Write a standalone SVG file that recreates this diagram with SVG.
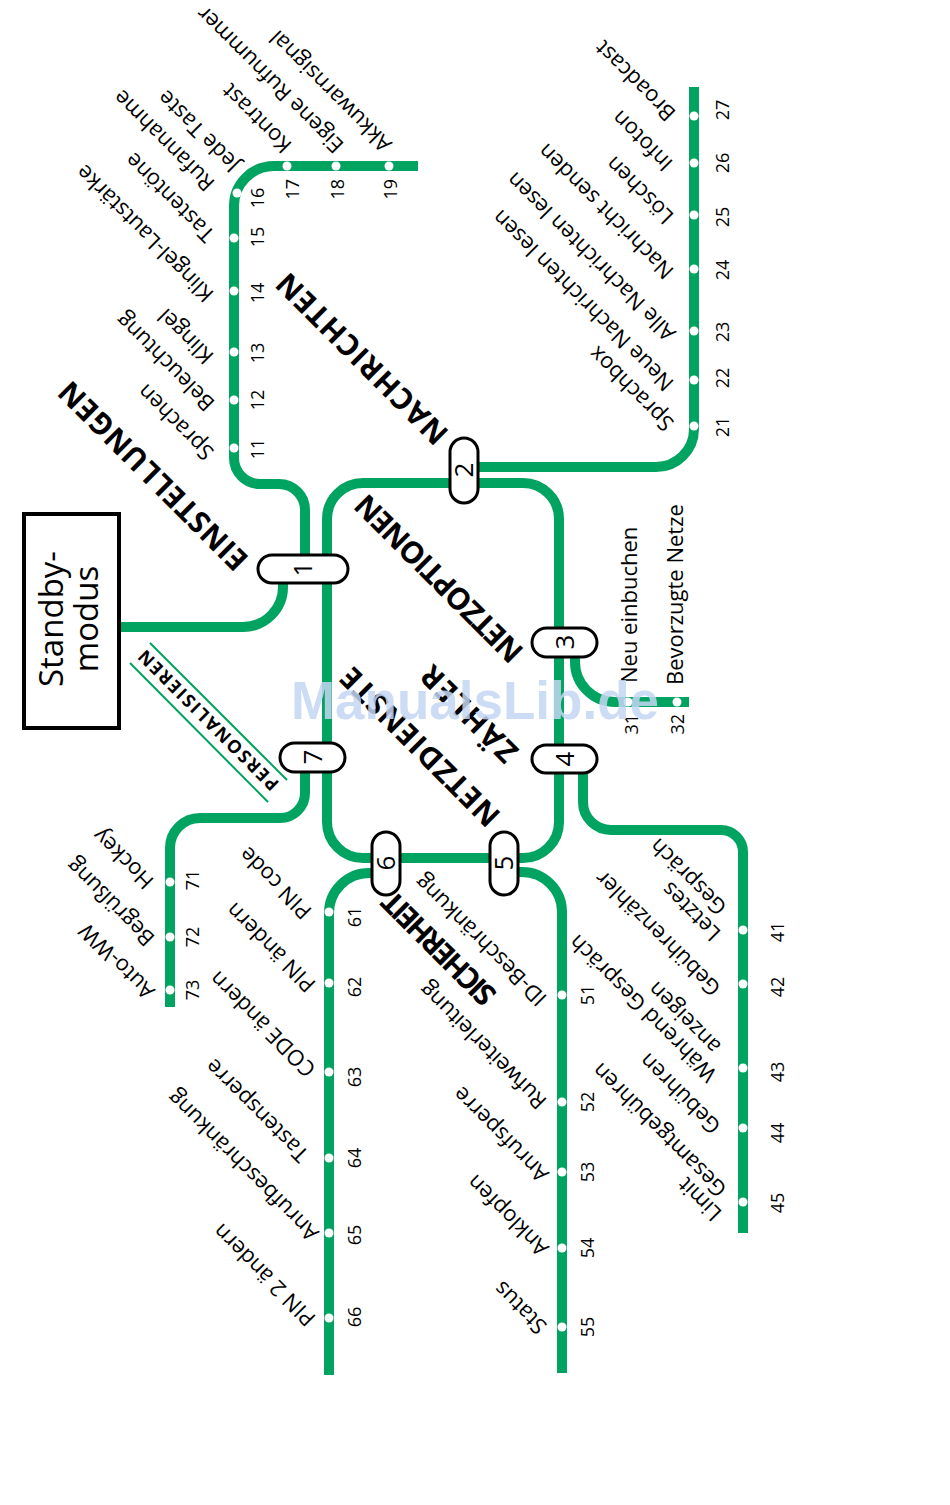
<svg xmlns="http://www.w3.org/2000/svg" width="950" height="1505" viewBox="0 0 950 1505">
<style>
.ln{fill:none;stroke:#00a35f;stroke-width:10;stroke-linecap:butt}
.thin{fill:none;stroke:#00a35f;stroke-width:2}
.dot{fill:#fff}
text{font-family:'Open Sans','Noto Sans',sans-serif;fill:#000}
.lbl{font-size:22px}
.num{font-size:18px}
.hd{font-size:30px;font-weight:700}
.hs{font-size:18px;font-weight:700}
.pill{fill:#fff;stroke:#000;stroke-width:3}
.pn{font-size:26px;text-anchor:middle}
.m{text-anchor:middle}
.e{text-anchor:end}
</style>
<rect width="950" height="1505" fill="#fff"/>
<g id="connectors">
<path class="ln" d="M120 627H243A40 40 0 0 0 283 587V575"/>
<path class="ln" d="M327 519A36 36 0 0 1 363 483H523A36 36 0 0 1 559 519V822A36 36 0 0 1 523 858H363A36 36 0 0 1 327 822Z"/>
<path class="ln" d="M305 560V510A26 26 0 0 0 279 484H260A26 26 0 0 1 234 458V206A40 40 0 0 1 274 166H418"/>
<path class="ln" d="M470 467H656A38 38 0 0 0 694 429V87"/>
<path class="ln" d="M575 650V662A40 40 0 0 0 615 702H689"/>
<path class="ln" d="M583 765V802A28 28 0 0 0 611 830H721A22 22 0 0 1 743 852V1233"/>
<path class="ln" d="M510 872H522A40 40 0 0 1 562 912V1373"/>
<path class="ln" d="M380 873H369A40 40 0 0 0 329 913V1375"/>
<path class="ln" d="M305 765V793A25 25 0 0 1 280 818H200A30 30 0 0 0 170 848V1007"/>
<path class="thin" d="M150 643L287 780M130 663L268 802"/>
</g>
<g id="standby">
<rect x="24" y="514" width="95" height="214" fill="#fff" stroke="#000" stroke-width="4"/>
<text style="font-size:33px" class="m" transform="translate(63,619) rotate(-90)">Standby-</text>
<text style="font-size:33px" class="m" transform="translate(98,619) rotate(-90)">modus</text>
</g>
<g id="headings">
<text class="hd" textLength="253" transform="translate(250,558) rotate(-135)">EINSTELLUNGEN</text>
<text class="hd" textLength="228" transform="translate(450,432) rotate(-135)">NACHRICHTEN</text>
<text class="hd" textLength="223" transform="translate(525,650) rotate(-135)">NETZOPTIONEN</text>
<text class="hd" textLength="123" transform="translate(520,750) rotate(-135)">ZÄHLER</text>
<text class="hd" textLength="211" transform="translate(502,814) rotate(-135)">NETZDIENSTE</text>
<text class="hd" textLength="147" transform="translate(498,993) rotate(-135)">SICHERHEIT</text>
<text class="hs" textLength="190" transform="translate(280,783) rotate(-135)">PERSONALISIEREN</text>
</g>
<g id="node1"><rect class="pill" x="258" y="555" width="90" height="28" rx="14"/><text class="pn" transform="translate(312,569) rotate(-90)">1</text></g>
<g id="node2"><rect class="pill" x="450" y="438" width="28" height="65" rx="14"/><text class="pn" transform="translate(473,470) rotate(-90)">2</text></g>
<g id="node3"><rect class="pill" x="532" y="628" width="65" height="29" rx="14.5"/><text class="pn" transform="translate(574,642) rotate(-90)">3</text></g>
<g id="node4"><rect class="pill" x="532" y="745" width="65" height="28" rx="14"/><text class="pn" transform="translate(574,759) rotate(-90)">4</text></g>
<g id="node5"><rect class="pill" x="490" y="832" width="28" height="63" rx="14"/><text class="pn" transform="translate(513,863) rotate(-90)">5</text></g>
<g id="node6"><rect class="pill" x="372" y="832" width="28" height="63" rx="14"/><text class="pn" transform="translate(395,863) rotate(-90)">6</text></g>
<g id="node7"><rect class="pill" x="280" y="743" width="65" height="29" rx="14.5"/><text class="pn" transform="translate(322,757) rotate(-90)">7</text></g>
<g id="line1">
<g id="st11"><circle class="dot" cx="234" cy="448" r="4.5"/><text class="num m" transform="translate(264,449) rotate(-90)">11</text><text class="lbl" transform="translate(215,451) rotate(-135)">Sprachen</text></g>
<g id="st12"><circle class="dot" cx="234" cy="400" r="4.5"/><text class="num m" transform="translate(264,400) rotate(-90)">12</text><text class="lbl" transform="translate(216,402) rotate(-135)">Beleuchtung</text></g>
<g id="st13"><circle class="dot" cx="234" cy="352" r="4.5"/><text class="num m" transform="translate(264,353) rotate(-90)">13</text><text class="lbl" transform="translate(215,355) rotate(-135)">Klingel</text></g>
<g id="st14"><circle class="dot" cx="234" cy="291" r="4.5"/><text class="num m" transform="translate(264,293) rotate(-90)">14</text><text class="lbl" transform="translate(215,293) rotate(-135)">Klingel-Lautstärke</text></g>
<g id="st15"><circle class="dot" cx="234" cy="238" r="4.5"/><text class="num m" transform="translate(264,237) rotate(-90)">15</text><text class="lbl" transform="translate(216,233) rotate(-135)">Tastentöne</text></g>
<g id="st16"><circle class="dot" cx="237" cy="193" r="4.5"/><text class="num m" transform="translate(264,198) rotate(-90)">16</text><text class="lbl" transform="translate(216,182) rotate(-135)">Rufannahme</text><text class="lbl" transform="translate(241,163) rotate(-135)">Jede Taste</text></g>
<g id="st17"><circle class="dot" cx="287" cy="166" r="4.5"/><text class="num e" transform="translate(299,179) rotate(-90)">17</text><text class="lbl" transform="translate(293,144) rotate(-135)">Kontrast</text></g>
<g id="st18"><circle class="dot" cx="336" cy="166" r="4.5"/><text class="num e" transform="translate(344,179) rotate(-90)">18</text><text class="lbl" transform="translate(345,144) rotate(-135)">Eigene Rufnummer</text></g>
<g id="st19"><circle class="dot" cx="389" cy="166" r="4.5"/><text class="num e" transform="translate(397,179) rotate(-90)">19</text><text class="lbl" transform="translate(393,143) rotate(-135)">Akkuwarnsignal</text></g>
</g>
<g id="line2">
<g id="st21"><circle class="dot" cx="694" cy="426" r="4.5"/><text class="num m" transform="translate(729,427) rotate(-90)">21</text><text class="lbl" transform="translate(675,422) rotate(-135)">Sprachbox</text></g>
<g id="st22"><circle class="dot" cx="694" cy="380" r="4.5"/><text class="num m" transform="translate(729,378) rotate(-90)">22</text><text class="lbl" transform="translate(675,382) rotate(-135)">Neue Nachrichten lesen</text></g>
<g id="st23"><circle class="dot" cx="694" cy="331" r="4.5"/><text class="num m" transform="translate(729,332) rotate(-90)">23</text><text class="lbl" transform="translate(677,332) rotate(-135)">Alle Nachrichten lesen</text></g>
<g id="st24"><circle class="dot" cx="694" cy="269" r="4.5"/><text class="num m" transform="translate(729,270) rotate(-90)">24</text><text class="lbl" transform="translate(675,270) rotate(-135)">Nachricht senden</text></g>
<g id="st25"><circle class="dot" cx="694" cy="215" r="4.5"/><text class="num m" transform="translate(729,217) rotate(-90)">25</text><text class="lbl" transform="translate(675,215) rotate(-135)">Löschen</text></g>
<g id="st26"><circle class="dot" cx="694" cy="163" r="4.5"/><text class="num m" transform="translate(729,163) rotate(-90)">26</text><text class="lbl" transform="translate(674,162) rotate(-135)">Infoton</text></g>
<g id="st27"><circle class="dot" cx="694" cy="116" r="4.5"/><text class="num m" transform="translate(729,110) rotate(-90)">27</text><text class="lbl" transform="translate(677,112) rotate(-135)">Broadcast</text></g>
</g>
<g id="line3">
<g id="st31"><circle class="dot" cx="628" cy="702" r="4.5"/><text class="num e" transform="translate(638,714) rotate(-90)">31</text><text class="lbl" transform="translate(637,683) rotate(-90)">Neu einbuchen</text></g>
<g id="st32"><circle class="dot" cx="677" cy="702" r="4.5"/><text class="num e" transform="translate(684,714) rotate(-90)">32</text><text class="lbl" transform="translate(683,685) rotate(-90)">Bevorzugte Netze</text></g>
</g>
<g id="line4">
<g id="st41"><circle class="dot" cx="743" cy="930" r="4.5"/><text class="num m" transform="translate(784,932) rotate(-90)">41</text><text class="lbl" transform="translate(722,932) rotate(-135)">Letztes</text><text class="lbl" transform="translate(728,906) rotate(-135)">Gespräch</text></g>
<g id="st42"><circle class="dot" cx="743" cy="984" r="4.5"/><text class="num m" transform="translate(784,987) rotate(-90)">42</text><text class="lbl" transform="translate(722,987) rotate(-135)">Gebührenzähler</text></g>
<g id="st43"><circle class="dot" cx="743" cy="1068" r="4.5"/><text class="num m" transform="translate(784,1072) rotate(-90)">43</text><text class="lbl" transform="translate(718,1073) rotate(-135)">Während Gespräch</text><text class="lbl" transform="translate(722,1045) rotate(-135)">anzeigen</text></g>
<g id="st44"><circle class="dot" cx="743" cy="1128" r="4.5"/><text class="num m" transform="translate(784,1133) rotate(-90)">44</text><text class="lbl" transform="translate(722,1125) rotate(-135)">Gebühren</text></g>
<g id="st45"><circle class="dot" cx="743" cy="1202" r="4.5"/><text class="num m" transform="translate(784,1203) rotate(-90)">45</text><text class="lbl" transform="translate(723,1212) rotate(-135)">Limit</text><text class="lbl" transform="translate(728,1188) rotate(-135)">Gesamtgebühren</text></g>
</g>
<g id="line5">
<g id="st51"><circle class="dot" cx="562" cy="995" r="4.5"/><text class="num m" transform="translate(594,995) rotate(-90)">51</text><text class="lbl" transform="translate(548,997) rotate(-135)">ID-Beschränkung</text></g>
<g id="st52"><circle class="dot" cx="562" cy="1102" r="4.5"/><text class="num m" transform="translate(594,1102) rotate(-90)">52</text><text class="lbl" transform="translate(548,1100) rotate(-135)">Rufweiterleitung</text></g>
<g id="st53"><circle class="dot" cx="562" cy="1172" r="4.5"/><text class="num m" transform="translate(594,1172) rotate(-90)">53</text><text class="lbl" transform="translate(550,1173) rotate(-135)">Anrufsperre</text></g>
<g id="st54"><circle class="dot" cx="562" cy="1248" r="4.5"/><text class="num m" transform="translate(594,1248) rotate(-90)">54</text><text class="lbl" transform="translate(550,1247) rotate(-135)">Anklopfen</text></g>
<g id="st55"><circle class="dot" cx="562" cy="1327" r="4.5"/><text class="num m" transform="translate(594,1327) rotate(-90)">55</text><text class="lbl" transform="translate(548,1325) rotate(-135)">Status</text></g>
</g>
<g id="line6">
<g id="st61"><circle class="dot" cx="329" cy="912" r="4.5"/><text class="num m" transform="translate(361,917) rotate(-90)">61</text><text class="lbl" transform="translate(313,910) rotate(-135)">PIN code</text></g>
<g id="st62"><circle class="dot" cx="329" cy="983" r="4.5"/><text class="num m" transform="translate(361,987) rotate(-90)">62</text><text class="lbl" transform="translate(317,983) rotate(-135)">PIN ändern</text></g>
<g id="st63"><circle class="dot" cx="329" cy="1072" r="4.5"/><text class="num m" transform="translate(361,1077) rotate(-90)">63</text><text class="lbl" transform="translate(317,1068) rotate(-135)">CODE ändern</text></g>
<g id="st64"><circle class="dot" cx="329" cy="1158" r="4.5"/><text class="num m" transform="translate(361,1158) rotate(-90)">64</text><text class="lbl" transform="translate(310,1153) rotate(-135)">Tastensperre</text></g>
<g id="st65"><circle class="dot" cx="329" cy="1233" r="4.5"/><text class="num m" transform="translate(361,1235) rotate(-90)">65</text><text class="lbl" transform="translate(320,1232) rotate(-135)">Anrufbeschränkung</text></g>
<g id="st66"><circle class="dot" cx="329" cy="1318" r="4.5"/><text class="num m" transform="translate(361,1317) rotate(-90)">66</text><text class="lbl" transform="translate(317,1317) rotate(-135)">PIN 2 ändern</text></g>
</g>
<g id="line7">
<g id="st71"><circle class="dot" cx="170" cy="882" r="4.5"/><text class="num m" transform="translate(199,880) rotate(-90)">71</text><text class="lbl" transform="translate(155,880) rotate(-135)">Hockey</text></g>
<g id="st72"><circle class="dot" cx="170" cy="937" r="4.5"/><text class="num m" transform="translate(199,937) rotate(-90)">72</text><text class="lbl" transform="translate(156,937) rotate(-135)">Begrüßung</text></g>
<g id="st73"><circle class="dot" cx="170" cy="990" r="4.5"/><text class="num m" transform="translate(199,990) rotate(-90)">73</text><text class="lbl" transform="translate(156,990) rotate(-135)">Auto-WW</text></g>
</g>
<text x="475" y="719" text-anchor="middle" style="font-family:'Liberation Sans',Arial,sans-serif;font-weight:700;font-size:53px;fill:#c3d6f3;fill-opacity:0.85">ManualsLib.de</text>
</svg>
